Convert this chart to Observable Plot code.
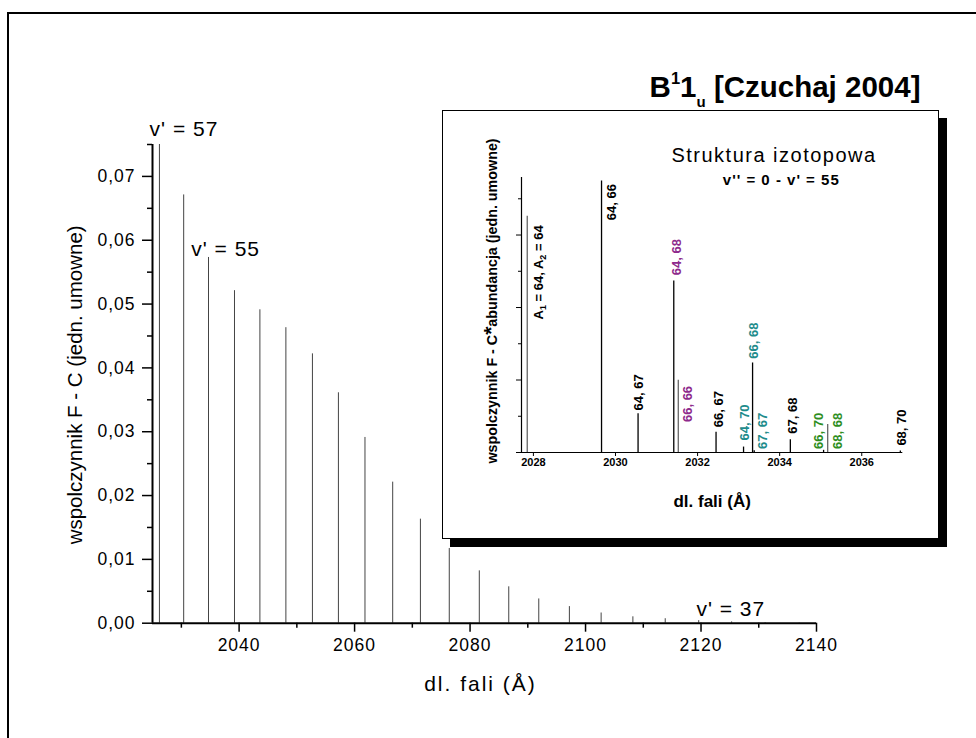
<!DOCTYPE html>
<html><head><meta charset="utf-8">
<script src="https://cdn.jsdelivr.net/npm/d3@7"></script>
<script src="https://cdn.jsdelivr.net/npm/@observablehq/plot@0.6"></script>
<style>
html,body{margin:0;padding:0;background:#fff;overflow:hidden;width:976px;height:738px;}
#wrap{position:relative;width:976px;height:738px;overflow:hidden;font-family:"Liberation Sans",Arial,Helvetica,sans-serif;}
#frame{position:absolute;left:7px;top:12px;width:1100px;height:900px;border:2px solid #000;box-sizing:border-box;}
#main{position:absolute;left:0;top:0;}
#inset{position:absolute;left:442px;top:110px;border:1px solid #000;background:#fff;box-shadow:8px 8px 0 0 #000;line-height:0;}
</style></head><body>
<div id="wrap"><div id="frame"></div><div id="main"></div><div id="inset"></div></div>
<script>
// ---------- main chart data ----------
const vPrime  = [57,56,55,54,53,52,51,50,49,48,47,46,45,44,43,42,41,40,39,38,37,36,35];
const mainWave = [2026.2,2030.4,2034.7,2039.2,2043.6,2048.1,2052.7,2057.2,2061.8,2066.6,2071.4,2076.4,2081.6,2086.7,2091.9,2097.2,2102.7,2108.2,2113.8,2119.6,2125.3,2131.1,2137.0];
const mainFC   = [0.0750,0.0671,0.0573,0.0521,0.0491,0.0463,0.0422,0.0361,0.0291,0.0221,0.0163,0.0117,0.0082,0.0057,0.0038,0.0026,0.0016,0.0010,0.0007,0.0004,0.0002,0.0001,0.00005];
const yMajor = [0,0.01,0.02,0.03,0.04,0.05,0.06,0.07];
const yMinor = [0.005,0.015,0.025,0.035,0.045,0.055,0.065,0.075];
const xMajor = [2040,2060,2080,2100,2120,2140];
const xMinor = [2030,2050,2070,2090,2110,2130];
const mainLabelText = ["v' = 57","v' = 55","v' = 37"];
const mainLabelX = [2024.5,2031.7,2119.2];
const mainLabelY = [0.0764,0.0576,0.0012];

// ---------- inset data ----------
const isoWave  = [2027.85,2029.66,2030.55,2031.42,2031.53,2032.45,2033.12,2033.34,2033.38,2034.26,2035.07,2035.17,2036.94];
const isoValue = [6.52,7.49,1.07,4.73,1.99,0.56,0.15,2.47,0.05,0.35,0.06,0.77,0.04];
const isoLineColor = ["#666","#000","#000","#000","#666","#000","#000","#000","#000","#000","#000","#666","#000"];
const isoLabelText = ["A1 = 64, A2 = 64","64, 66","64, 67","64, 68","66, 66","66, 67","64, 70","66, 68","67, 67","67, 68","66, 70","68, 68","68, 70"];
const isoLabelX = [2028.12,2029.92,2030.57,2031.50,2031.77,2032.52,2033.15,2033.38,2033.60,2034.31,2034.95,2035.41,2036.97];
const isoLabelY = [3.67,6.41,1.16,4.89,0.84,0.70,0.33,2.59,0.10,0.52,0.10,0.10,0.19];
const PURPLE = "#8e2a8c", TEAL = "#1f8c8c", GREEN = "#2e8e1e";
const isoLabelColor = ["#000","#000","#000",PURPLE,PURPLE,"#000",TEAL,TEAL,TEAL,"#000",GREEN,GREEN,"#000"];
const isoYMajor = [0,2,4,6];
const isoYMinor = [1,3,5,7];
const isoXTicks = [2028,2030,2032,2034,2036];

const FONT = '"Liberation Sans", Arial, Helvetica, sans-serif';
const fmtComma = d => d.toFixed(2).replace(".", ",");

const mainBars = mainWave.map((w,i)=>({w, fc: mainFC[i], v: vPrime[i]}));
const mainLabels = mainLabelText.map((t,i)=>({t, x: mainLabelX[i], y: mainLabelY[i]}));

const mainPlot = Plot.plot({
  width: 976, height: 738,
  marginLeft: 152, marginRight: 160, marginTop: 144, marginBottom: 115.3,
  x: {domain: [2025, 2140], label: null},
  y: {domain: [0, 0.075], label: null},
  style: {fontFamily: FONT, background: "transparent", color: "#000", overflow: "visible"},
  marks: [
    Plot.ruleX(mainBars, {x: "w", y1: 0, y2: "fc", stroke: "#444", strokeWidth: 1}),
    Plot.ruleX([2025], {y1: 0, y2: 0.075, strokeWidth: 2}),
    Plot.ruleY([0], {x1: 2025, x2: 2140, strokeWidth: 2}),
    Plot.axisY(yMajor, {tickSize: 10, tickPadding: 7, tickFormat: fmtComma, fontSize: 17.5, strokeWidth: 1.5, label: null}),
    Plot.axisY(yMinor, {tickSize: 5, tickFormat: () => "", strokeWidth: 1.5, label: null}),
    Plot.axisX(xMajor, {tickSize: 9, tickPadding: 6, tickFormat: d => String(d), fontSize: 17.5, strokeWidth: 1.5, label: null}),
    Plot.axisX(xMinor, {tickSize: 5, tickFormat: () => "", strokeWidth: 1.5, label: null}),
    Plot.text(mainLabels, {x: "x", y: "y", text: "t", textAnchor: "start", lineAnchor: "bottom", fontSize: 21}),
    Plot.text(["dl. fali (Å)"], {frameAnchor: "bottom", dx: -4, dy: 61, textAnchor: "middle", lineAnchor: "middle", fontSize: 21}),
    Plot.text(["wspolczynnik F - C (jedn. umowne)"], {frameAnchor: "left", dx: -77, dy: 1, rotate: -90, textAnchor: "middle", lineAnchor: "middle", fontSize: 20.5})
  ]
});
document.getElementById("main").appendChild(mainPlot);

// letter spacing for horizontal texts of the main chart
const ms = d3.select(mainPlot);
ms.selectAll('g[aria-label="x-axis tick label"] text, g[aria-label="y-axis tick label"] text').style("letter-spacing", "1px");
ms.selectAll("text").filter(function(){ return mainLabelText.includes(this.textContent); }).style("letter-spacing", "1px");
ms.selectAll("text").filter(function(){ return this.textContent === "dl. fali (Å)"; }).style("letter-spacing", "2px");

// main title with super/subscript
const tt = ms.append("text").attr("x", 649.6).attr("y", 97.2).attr("text-anchor", "start")
  .attr("font-size", 29.5).attr("font-weight", "bold").attr("font-family", FONT).attr("fill", "#000");
tt.append("tspan").text("B");
tt.append("tspan").text("1").attr("font-size", 16.5).attr("dy", -13.5);
tt.append("tspan").text("1").attr("dy", 13.5);
tt.append("tspan").text("u").attr("font-size", 15).attr("dy", 10);
tt.append("tspan").text(" [Czuchaj 2004]").attr("dy", -10);

// ---------- inset ----------
const isoLines = isoWave.map((w,i)=>({w, v: isoValue[i], c: isoLineColor[i]}));
const isoLabels = isoLabelText.map((t,i)=>({t, x: isoLabelX[i], y: isoLabelY[i], c: isoLabelColor[i]}));
const INSET_YTITLE = "wspolczynnik F - C*abundancja (jedn. umowne)";

const insetPlot = Plot.plot({
  width: 495, height: 427,
  marginLeft: 78, marginRight: 35.7, marginTop: 65.9, marginBottom: 86,
  x: {domain: [2027.71, 2037], label: null},
  y: {domain: [0, 7.59], label: null},
  color: {type: "identity"},
  style: {fontFamily: FONT, background: "#fff", color: "#000", overflow: "visible"},
  marks: [
    Plot.ruleX(isoLines, {x: "w", y1: 0, y2: "v", stroke: "c", strokeWidth: 1.3}),
    Plot.ruleX([2027.71], {y1: 0, y2: 7.59, strokeWidth: 1.2}),
    Plot.ruleY([0], {x1: 2027.71, x2: 2037, strokeWidth: 1.2}),
    Plot.axisY(isoYMajor, {tickSize: 5, tickFormat: () => "", strokeWidth: 1, label: null}),
    Plot.axisY(isoYMinor, {tickSize: 3, tickFormat: () => "", strokeWidth: 1, label: null}),
    Plot.axisX(isoXTicks, {tickSize: 4, tickPadding: 2, tickFormat: d => String(d), fontSize: 11, fontWeight: "bold", strokeWidth: 1, label: null}),
    Plot.text(isoLabels, {x: "x", y: "y", text: "t", fill: "c", rotate: -90, textAnchor: "start", lineAnchor: "middle", fontSize: 13, fontWeight: "bold"}),
    Plot.text(["Struktura izotopowa"], {frameAnchor: "top-left", dx: 149.9, dy: -15.9, textAnchor: "start", lineAnchor: "bottom", fontSize: 20}),
    Plot.text(["v'' = 0 - v' = 55"], {frameAnchor: "top-left", dx: 201.3, dy: 7.7, textAnchor: "start", lineAnchor: "bottom", fontSize: 15, fontWeight: "bold"}),
    Plot.text(["dl. fali (Å)"], {frameAnchor: "bottom", dy: 54.3, textAnchor: "middle", lineAnchor: "bottom", fontSize: 17, fontWeight: "bold"}),
    Plot.text([INSET_YTITLE], {frameAnchor: "left", dx: -29, dy: -14, rotate: -90, textAnchor: "middle", lineAnchor: "middle", fontSize: 14.3, fontWeight: "bold"})
  ]
});
document.getElementById("inset").appendChild(insetPlot);

const is = d3.select(insetPlot);
is.selectAll("text").filter(function(){ return this.textContent === "Struktura izotopowa"; }).style("letter-spacing", "1.5px");
is.selectAll("text").filter(function(){ return this.textContent === "v'' = 0 - v' = 55"; }).style("letter-spacing", "1px");

function rich(el, parts) {
  el.textContent = "";
  parts.forEach(p => {
    const ts = document.createElementNS("http://www.w3.org/2000/svg", "tspan");
    ts.textContent = p.s;
    if (p.size) ts.setAttribute("font-size", p.size);
    if (p.dy) ts.setAttribute("dy", p.dy);
    el.appendChild(ts);
  });
}
is.selectAll("text").filter(function(){ return this.textContent === isoLabelText[0]; }).each(function(){
  rich(this, [{s: "A"}, {s: "1", size: 9, dy: 3}, {s: " = 64, A", dy: -3}, {s: "2", size: 9, dy: 3}, {s: " = 64", dy: -3}]);
});
is.selectAll("text").filter(function(){ return this.textContent === INSET_YTITLE; }).each(function(){
  rich(this, [{s: "wspolczynnik F - C"}, {s: "*", size: 21, dy: 1}, {s: "abundancja (jedn. umowne)", dy: -1}]);
});
</script></body></html>
